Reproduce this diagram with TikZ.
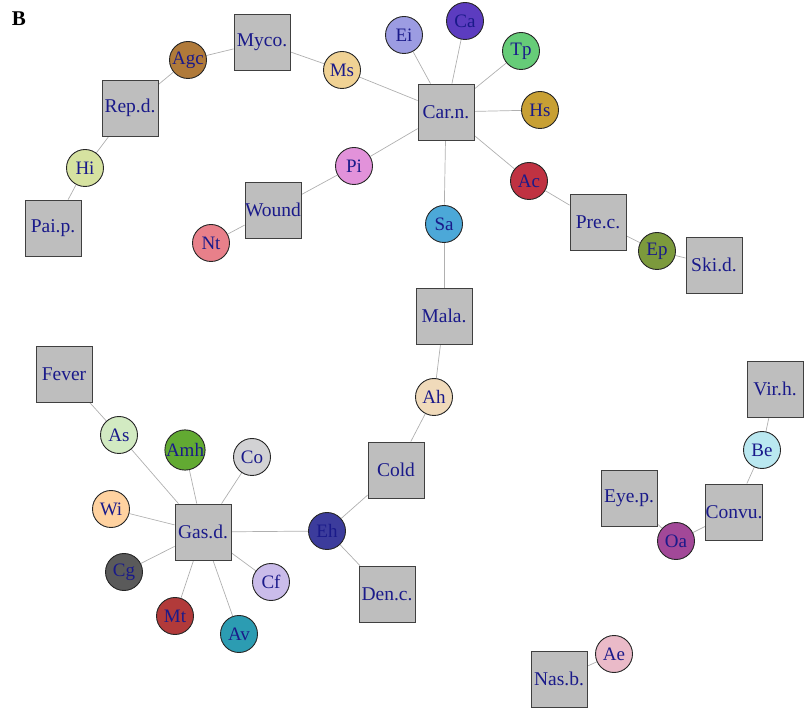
\documentclass[tikz,border=0pt]{standalone}
\usepackage{fontspec}
\setmainfont{Liberation Serif}
\usetikzlibrary{backgrounds}
\definecolor{txt}{HTML}{1A1A8A}
\definecolor{sqfill}{HTML}{BEBEBE}
\definecolor{edgec}{HTML}{B0B0B0}
\tikzset{
  sq/.style={rectangle, draw=black!75, line width=0.8pt, fill=sqfill, minimum width=56pt, minimum height=56pt, inner sep=0pt, text=txt, font=\fontsize{19.5}{19.5}\selectfont},
  cc/.style={circle, draw=black!85, line width=0.9pt, minimum size=37pt, inner sep=0pt, text=txt, font=\fontsize{19}{19}\selectfont},
  ln/.style={draw=edgec, line width=0.7pt}
}
\begin{document}
\begin{tikzpicture}[x=1pt,y=-1pt]
\useasboundingbox (0,0) rectangle (812,708);
\node[font=\fontsize{21}{21}\selectfont\bfseries] (lab) at (19,19) {B};
% squares
\node[sq] (myco) at (262,42) {Myco.};
\node[sq] (repd) at (130,108) {Rep.d.};
\node[sq] (paip) at (53,228) {Pai.p.};
\node[sq] (carn) at (446,112) {Car.n.};
\node[sq] (wound) at (273,210) {Wound};
\node[sq] (prec) at (598,222) {Pre.c.};
\node[sq] (skid) at (714,265) {Ski.d.};
\node[sq] (mala) at (444,316) {Mala.};
\node[sq] (cold) at (396,470) {Cold};
\node[sq] (denc) at (387,594) {Den.c.};
\node[sq] (gasd) at (203,532) {Gas.d.};
\node[sq] (fever) at (64,374) {Fever};
\node[sq] (virh) at (775,389) {Vir.h.};
\node[sq] (convu) at (734,512) {Convu.};
\node[sq] (eyep) at (629,498) {Eye.p.};
\node[sq] (nasb) at (559,679) {Nas.b.};
% circles
\node[cc, fill={rgb,255:red,176;green,122;blue,58}] (agc) at (188,60) {Agc};
\node[cc, fill={rgb,255:red,214;green,226;blue,160}] (hi) at (85,168) {Hi};
\node[cc, fill={rgb,255:red,240;green,210;blue,148}] (ms) at (342,70) {Ms};
\node[cc, fill={rgb,255:red,156;green,156;blue,226}] (ei) at (404,35) {Ei};
\node[cc, fill={rgb,255:red,92;green,60;blue,192}] (ca) at (465,21) {Ca};
\node[cc, fill={rgb,255:red,102;green,204;blue,120}] (tp) at (521,51) {Tp};
\node[cc, fill={rgb,255:red,200;green,160;blue,52}] (hs) at (540,110) {Hs};
\node[cc, fill={rgb,255:red,226;green,146;blue,218}] (pi) at (354,166) {Pi};
\node[cc, fill={rgb,255:red,232;green,128;blue,138}] (nt) at (211,243) {Nt};
\node[cc, fill={rgb,255:red,192;green,50;blue,66}] (ac) at (529,181) {Ac};
\node[cc, fill={rgb,255:red,124;green,154;blue,60}] (ep) at (657,251) {Ep};
\node[cc, fill={rgb,255:red,76;green,168;blue,216}] (sa) at (444,224) {Sa};
\node[cc, fill={rgb,255:red,240;green,218;blue,186}] (ah) at (434,397) {Ah};
\node[cc, fill={rgb,255:red,60;green,60;blue,156}] (eh) at (327,531) {Eh};
\node[cc, fill={rgb,255:red,210;green,234;blue,194}] (as) at (119,435) {As};
\node[cc, fill={rgb,255:red,98;green,170;blue,50}] (amh) at (185,450) {Amh};
\node[cc, fill={rgb,255:red,210;green,210;blue,212}] (co) at (252,457) {Co};
\node[cc, fill={rgb,255:red,255;green,210;blue,160}] (wi) at (111,509) {Wi};
\node[cc, fill={rgb,255:red,90;green,90;blue,90}] (cg) at (124,572) {Cg};
\node[cc, fill={rgb,255:red,178;green,58;blue,58}] (mt) at (175,616) {Mt};
\node[cc, fill={rgb,255:red,44;green,156;blue,178}] (av) at (239,634) {Av};
\node[cc, fill={rgb,255:red,202;green,188;blue,234}] (cf) at (271,582) {Cf};
\node[cc, fill={rgb,255:red,186;green,232;blue,240}] (be) at (762,450) {Be};
\node[cc, fill={rgb,255:red,162;green,72;blue,152}] (oa) at (676,541) {Oa};
\node[cc, fill={rgb,255:red,234;green,186;blue,200}] (ae) at (614,654) {Ae};
% edges
\begin{scope}[on background layer]
\draw[ln] (myco) -- (agc);
\draw[ln] (agc) -- (repd);
\draw[ln] (repd) -- (hi);
\draw[ln] (hi) -- (paip);
\draw[ln] (myco) -- (ms);
\draw[ln] (ms) -- (carn);
\draw[ln] (ei) -- (carn);
\draw[ln] (ca) -- (carn);
\draw[ln] (tp) -- (carn);
\draw[ln] (hs) -- (carn);
\draw[ln] (pi) -- (carn);
\draw[ln] (ac) -- (carn);
\draw[ln] (sa) -- (carn);
\draw[ln] (pi) -- (wound);
\draw[ln] (wound) -- (nt);
\draw[ln] (ac) -- (prec);
\draw[ln] (prec) -- (ep);
\draw[ln] (ep) -- (skid);
\draw[ln] (sa) -- (mala);
\draw[ln] (mala) -- (ah);
\draw[ln] (ah) -- (cold);
\draw[ln] (cold) -- (eh);
\draw[ln] (eh) -- (denc);
\draw[ln] (eh) -- (gasd);
\draw[ln] (gasd) -- (as);
\draw[ln] (as) -- (fever);
\draw[ln] (gasd) -- (amh);
\draw[ln] (gasd) -- (co);
\draw[ln] (gasd) -- (wi);
\draw[ln] (gasd) -- (cg);
\draw[ln] (gasd) -- (mt);
\draw[ln] (gasd) -- (av);
\draw[ln] (gasd) -- (cf);
\draw[ln] (virh) -- (be);
\draw[ln] (be) -- (convu);
\draw[ln] (convu) -- (oa);
\draw[ln] (oa) -- (eyep);
\draw[ln] (ae) -- (nasb);
\end{scope}
\end{tikzpicture}
\end{document}
